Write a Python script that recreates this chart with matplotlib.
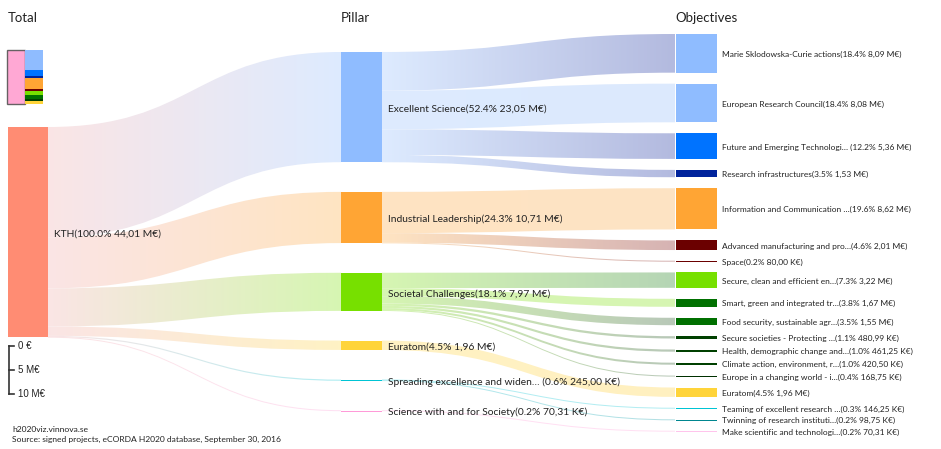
#!/usr/bin/env python
# -*- coding: utf-8 -*-

import numpy as np
import matplotlib
matplotlib.use("Agg")
from matplotlib import pyplot as plt
from matplotlib.path import Path
from matplotlib.patches import PathPatch, Rectangle
from matplotlib.colors import to_rgb

plt.rcParams['font.family'] = ['Lato', 'DejaVu Sans']

# values in K€
total_name = "KTH"

pillars = ["Excellent Science", "Industrial Leadership", "Societal Challenges", "Euratom",
           "Spreading excellence and widen\u2026 ", "Science with and for Society"]
pillar_values = [23050, 10710, 7970, 1960, 245, 70.31]

objectives = ["Marie Sklodowska-Curie actions", "European Research Council",
              "Future and Emerging Technologi\u2026 ", "Research infrastructures",
              "Information and Communication \u2026", "Advanced manufacturing and pro\u2026", "Space",
              "Secure, clean and efficient en\u2026", "Smart, green and integrated tr\u2026",
              "Food security, sustainable agr\u2026", "Secure societies - Protecting \u2026",
              "Health, demographic change and\u2026", "Climate action, environment, r\u2026",
              "Europe in a changing world - i\u2026", "Euratom",
              "Teaming of excellent research \u2026", "Twinning of research instituti\u2026",
              "Make scientific and technologi\u2026"]
objective_values = [8090, 8080, 5360, 1530, 8620, 2010, 80, 3220, 1670, 1550, 480.99,
                    461.25, 420.50, 168.75, 1960, 146.25, 98.75, 70.31]
# pillar index of each objective
objective_pillar = [0, 0, 0, 0, 1, 1, 1, 2, 2, 2, 2, 2, 2, 2, 3, 4, 4, 5]

# styles
total_color = "#ff8c73"
pillar_colors = ["#8fbcff", "#ffa534", "#77e000", "#ffd43a", "#00c4d4", "#ff9ad8"]
objective_colors = ["#8fbcff", "#8fbcff", "#0073ff", "#00239c", "#ffa534", "#6b0000", "#6b0000",
                    "#77e000", "#007000", "#007000", "#004000", "#004000", "#004000", "#003000",
                    "#ffd43a", "#00c4d4", "#00868f", "#ffc4ec"]
link_end_colors = ["#b3badf", "#dce9fd", "#b3badf", "#b3badf", "#fde3c4", "#d6b3b3", "#d6b3b3",
                   "#b5d5b5", "#d6f6b3", "#b8c8b8", "#b8c8b8", "#b8c8b8", "#b8c8b8", "#b8c8b8",
                   "#fff0c0", "#b3eef3", "#b3dfe3", "#ffe0f4"]


def light(c, a=0.3):
    r = np.array(to_rgb(c))
    return tuple(1 - a * (1 - r))


def fmt(v):
    if v >= 1000:
        s = "%.2f M€" % (v / 1000.0)
    else:
        s = "%.2f K€" % v
    return s.replace(".", ",")


def label(name, v, total):
    return "%s(%.1f%% %s)" % (name, v / total * 100, fmt(v))


def draw_link(ax, x0, y0t, y0b, x1, y1t, y1b, c0, c1):
    # keep very thin links visible
    if y0b - y0t < 1:
        m = (y0t + y0b) / 2.0
        y0t, y0b = m - 0.5, m + 0.5
    if y1b - y1t < 1:
        m = (y1t + y1b) / 2.0
        y1t, y1b = m - 0.5, m + 0.5
    xm = (x0 + x1) / 2.0
    verts = [(x0, y0t), (xm, y0t), (xm, y1t), (x1, y1t),
             (x1, y1b), (xm, y1b), (xm, y0b), (x0, y0b), (x0, y0t)]
    codes = [Path.MOVETO, Path.CURVE4, Path.CURVE4, Path.CURVE4,
             Path.LINETO, Path.CURVE4, Path.CURVE4, Path.CURVE4, Path.CLOSEPOLY]
    patch = PathPatch(Path(verts, codes), facecolor="none", edgecolor="none")
    ax.add_patch(patch)
    t = np.linspace(0, 1, 200)[None, :, None]
    grad = (1 - t) * np.array(c0)[None, None, :] + t * np.array(c1)[None, None, :]
    ymin = min(y0t, y1t) - 1
    ymax = max(y0b, y1b) + 1
    im = ax.imshow(grad, extent=(x0, x1, ymax, ymin), aspect="auto", interpolation="bilinear", zorder=1)
    im.set_clip_path(patch)


def plot_sankey(out):
    fig = plt.figure(figsize=(9.41, 4.49), dpi=100)
    ax = fig.add_axes([0, 0, 1, 1])

    total = float(sum(pillar_values))
    k = 4.78 / 1000.0  # px per K€

    col_x = [8, 341, 675]
    node_w = [40, 41, 41]
    col_top = [127, 52, 34]
    gaps = [0, 29.7, 11.0]

    # node positions
    tot_top = col_top[0]
    tot_bot = tot_top + total * k

    p_top = []
    y = col_top[1]
    for v in pillar_values:
        p_top.append(y)
        y += v * k + gaps[1]

    o_top = []
    y = col_top[2]
    for v in objective_values:
        o_top.append(y)
        y += v * k + gaps[2]

    # links total -> pillars
    y = tot_top
    for i, v in enumerate(pillar_values):
        h = v * k
        draw_link(ax, col_x[0] + node_w[0], y, y + h, col_x[1], p_top[i], p_top[i] + h,
                  light("#f0a8a8", 0.3), light(pillar_colors[i], 0.3))
        y += h

    # links pillars -> objectives
    offs = list(p_top)
    for j, v in enumerate(objective_values):
        p = objective_pillar[j]
        h = v * k
        draw_link(ax, col_x[1] + node_w[1], offs[p], offs[p] + h, col_x[2], o_top[j], o_top[j] + h,
                  light(pillar_colors[p], 0.3), to_rgb(link_end_colors[j]))
        offs[p] += h

    # nodes
    ax.add_patch(Rectangle((col_x[0], tot_top), node_w[0], total * k, facecolor=total_color,
                           edgecolor="none", zorder=3))
    ax.text(col_x[0] + node_w[0] + 6, (tot_top + tot_bot) / 2 + 2, label(total_name, total, total),
            fontsize=7.4, va="center", ha="left", color="#222222", zorder=5)

    for i, v in enumerate(pillar_values):
        h = max(v * k, 1.2)
        ax.add_patch(Rectangle((col_x[1], p_top[i]), node_w[1], h, facecolor=pillar_colors[i],
                               edgecolor="none", zorder=3))
        ax.text(col_x[1] + node_w[1] + 6, p_top[i] + v * k / 2 + 2, label(pillars[i], v, total),
                fontsize=7.4, va="center", ha="left", color="#222222", zorder=5)

    for j, v in enumerate(objective_values):
        h = max(v * k, 1.2)
        ax.add_patch(Rectangle((col_x[2] + 1, o_top[j]), node_w[2], h, facecolor=objective_colors[j],
                               edgecolor="none", zorder=3))
        ax.text(col_x[2] + node_w[2] + 6, o_top[j] + v * k / 2 + 1, label(objectives[j], v, total),
                fontsize=6.0, va="center", ha="left", color="#222222", zorder=5)

    # column titles
    for x, t in zip(col_x, ["Total", "Pillar", "Objectives"]):
        ax.text(x, 18, t, fontsize=9.5, va="center", ha="left", color="#222222")

    # mini overview bar
    mini_k = 54.0 / total
    ax.add_patch(Rectangle((7.5, 50), 17.5, total * mini_k, facecolor="#ff9fd0",
                           edgecolor="#555555", linewidth=1.0, alpha=0.9, zorder=3))
    y = 50
    for j, v in enumerate(objective_values):
        ax.add_patch(Rectangle((25, y), 18, v * mini_k, facecolor=objective_colors[j],
                               edgecolor="none", zorder=3))
        y += v * mini_k

    # scale bar
    s0 = 346
    ticks = [0, 5000, 10000]
    tick_labels = ["0 €", "5 M€", "10 M€"]
    ax.plot([9, 9], [s0, s0 + ticks[-1] * k], color="#333333", lw=1.2)
    for t, tl in zip(ticks, tick_labels):
        ax.plot([9, 14], [s0 + t * k, s0 + t * k], color="#333333", lw=1.2)
        ax.text(18, s0 + t * k, tl, fontsize=7, va="center", ha="left", color="#222222",
                family=["Liberation Sans", "DejaVu Sans"])

    # footer
    ax.text(12, 430, "h2020viz.vinnova.se", fontsize=6.1, va="center", ha="left", color="#222222")
    ax.text(12, 439, "Source: signed projects, eCORDA H2020 database, September 30, 2016",
            fontsize=6.1, va="center", ha="left", color="#222222")

    ax.set_xlim(0, 941)
    ax.set_ylim(449, 0)
    ax.axis("off")
    fig.savefig(out, dpi=100)


if __name__ == "__main__":
    plot_sankey("out.png")
